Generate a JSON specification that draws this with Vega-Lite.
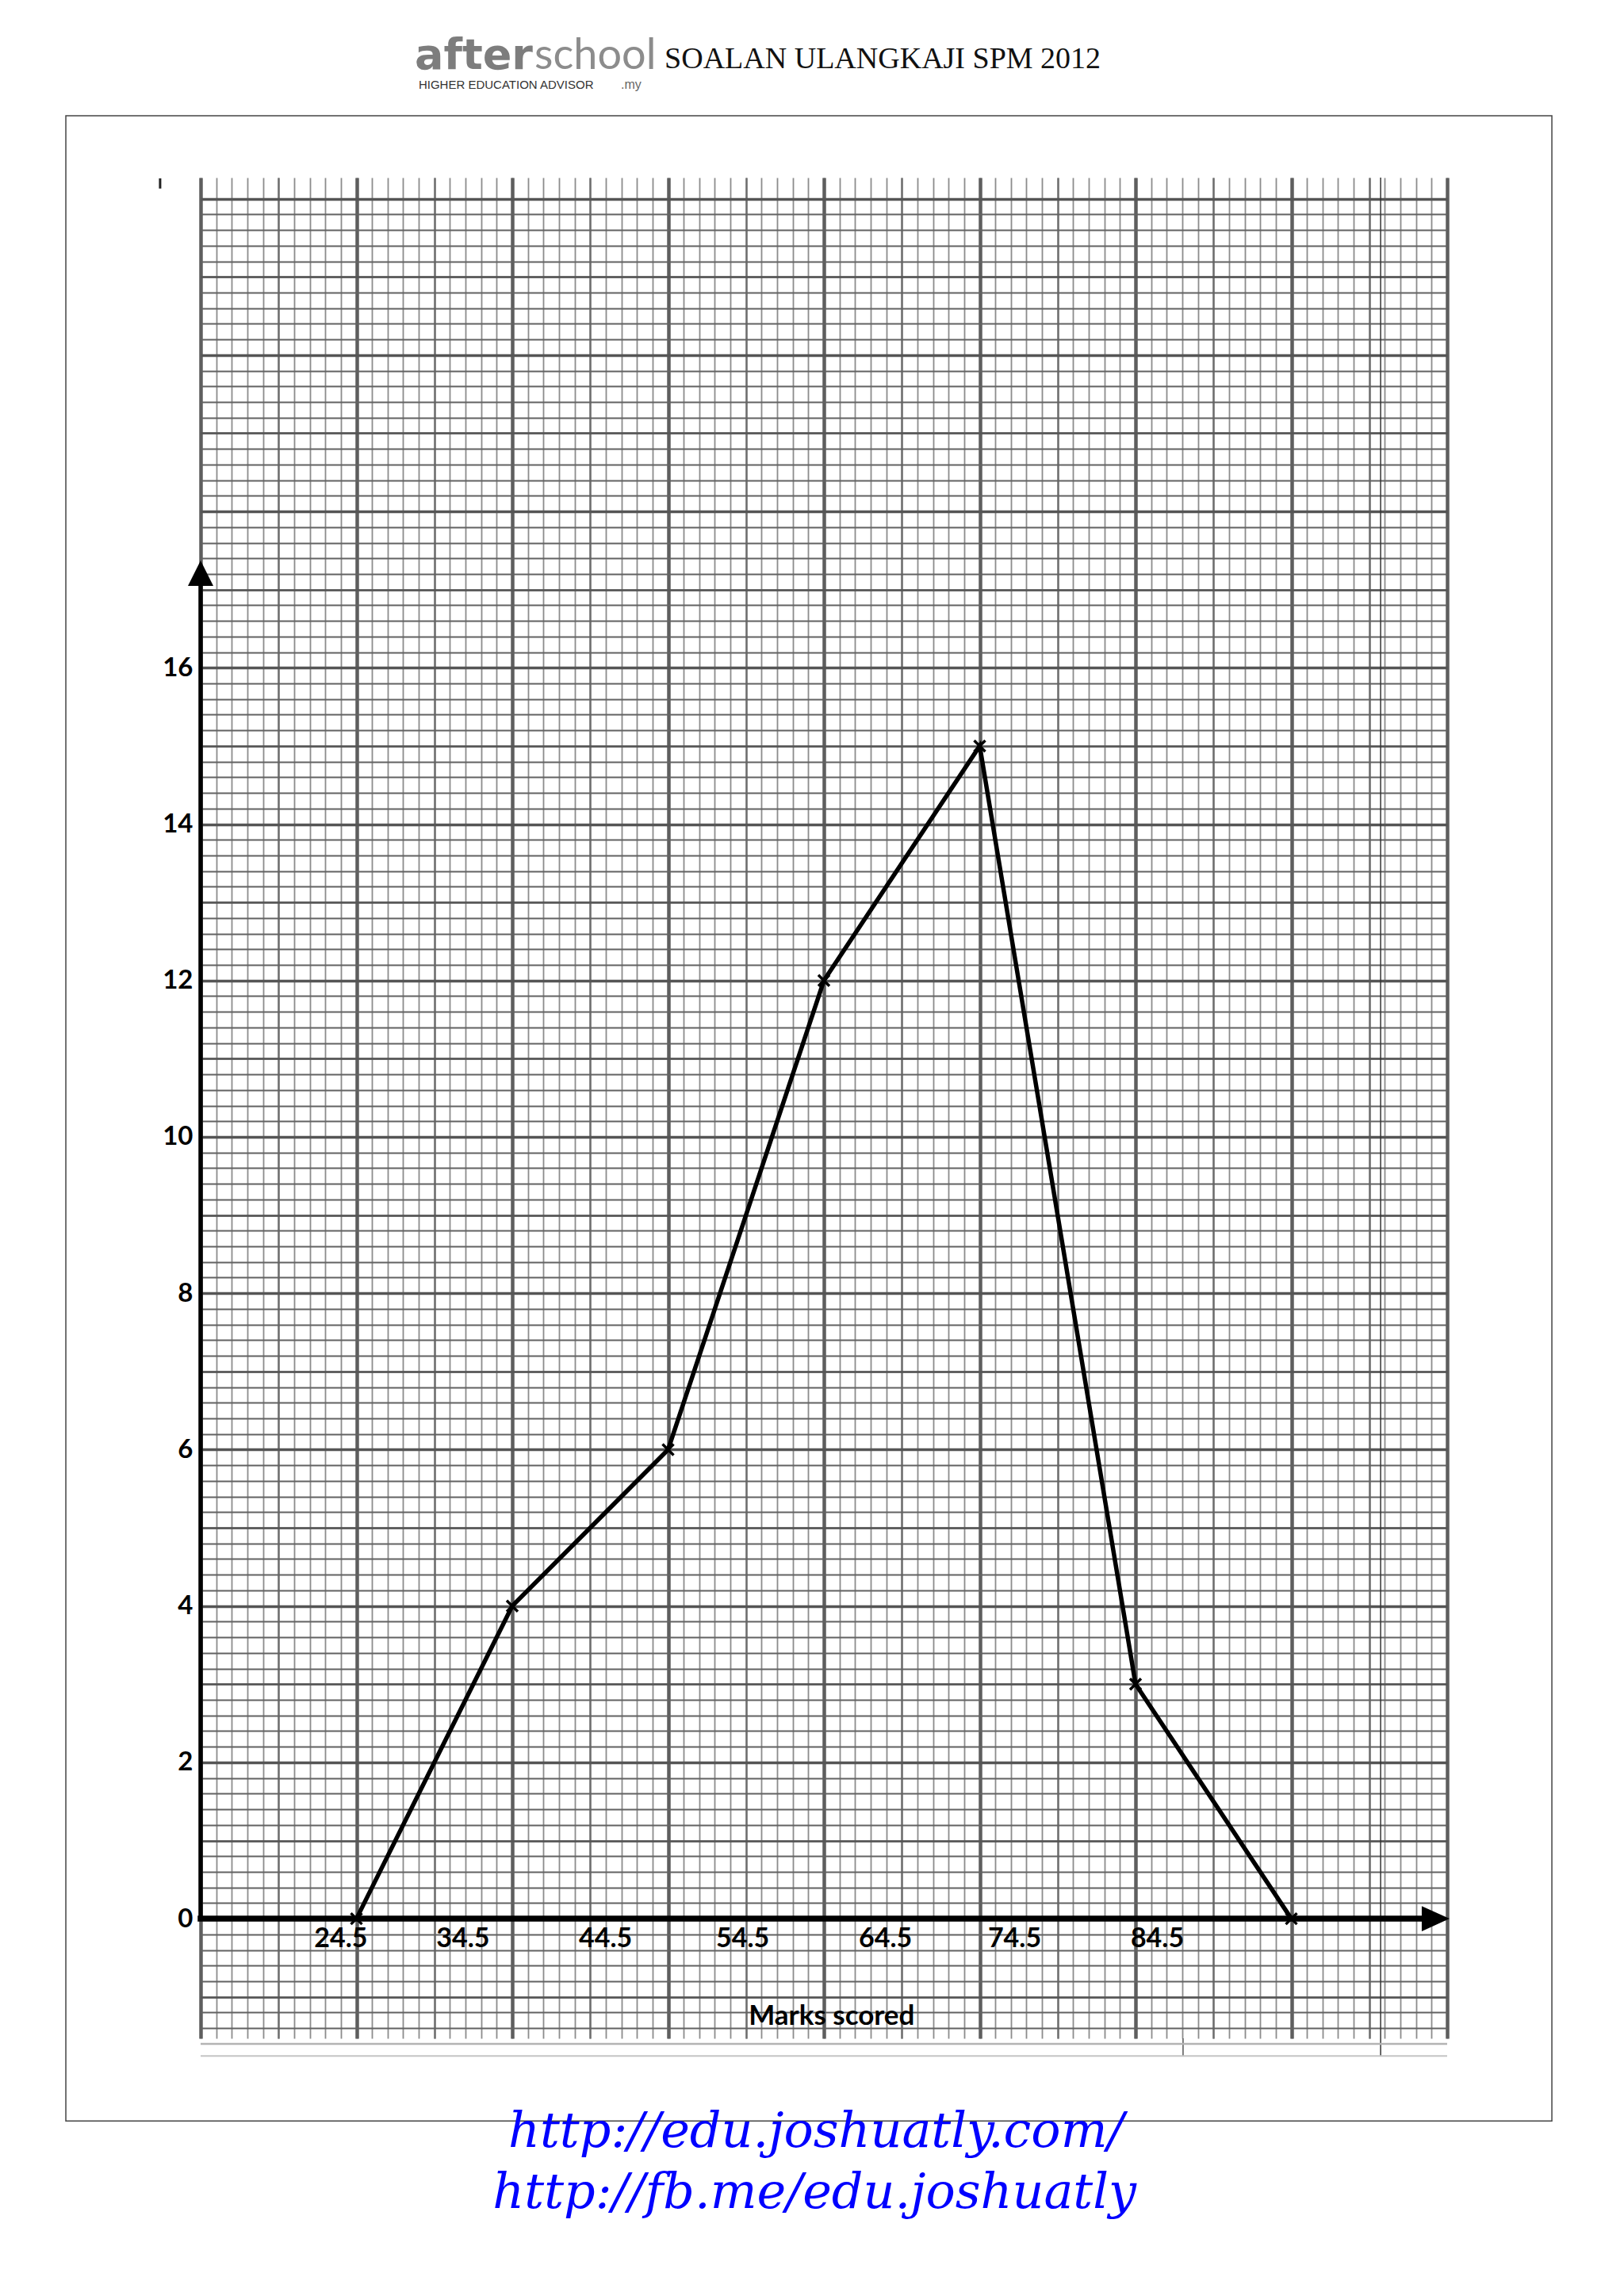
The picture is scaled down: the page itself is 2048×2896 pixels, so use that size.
{
  "$schema": "https://vega.github.io/schema/vega-lite/v6.json",
  "width": 1572,
  "height": 2347,
  "autosize": {"type": "none"},
  "padding": {"left": 253, "top": 224, "right": 223, "bottom": 325},
  "background": "white",
  "config": {"view": {"stroke": null}},
  "datasets": {
    "polygon": [
      {"mark": 24.5, "freq": 0},
      {"mark": 34.5, "freq": 4},
      {"mark": 44.5, "freq": 6},
      {"mark": 54.5, "freq": 12},
      {"mark": 64.5, "freq": 15},
      {"mark": 74.5, "freq": 3},
      {"mark": 84.5, "freq": 0}
    ],
    "xlabels": [
      {"label": "24.5", "pos": 23.5},
      {"label": "34.5", "pos": 31.34},
      {"label": "44.5", "pos": 40.49},
      {"label": "54.5", "pos": 49.29},
      {"label": "64.5", "pos": 58.45},
      {"label": "74.5", "pos": 66.74},
      {"label": "84.5", "pos": 75.9}
    ],
    "one": [{}]
  },
  "data": {"name": "polygon"},
  "resolve": {"axis": {"x": "independent", "y": "independent"}},
  "layer": [
    {
      "mark": {"type": "point", "opacity": 0},
      "encoding": {
        "x": {"field": "mark", "type": "quantitative",
          "scale": {"domain": [14.5, 94.5], "nice": false, "zero": false},
          "axis": {"orient": "bottom", "values": [14.5,15.5,16.5,17.5,18.5,19.5,20.5,21.5,22.5,23.5,24.5,25.5,26.5,27.5,28.5,29.5,30.5,31.5,32.5,33.5,34.5,35.5,36.5,37.5,38.5,39.5,40.5,41.5,42.5,43.5,44.5,45.5,46.5,47.5,48.5,49.5,50.5,51.5,52.5,53.5,54.5,55.5,56.5,57.5,58.5,59.5,60.5,61.5,62.5,63.5,64.5,65.5,66.5,67.5,68.5,69.5,70.5,71.5,72.5,73.5,74.5,75.5,76.5,77.5,78.5,79.5,80.5,81.5,82.5,83.5,84.5,85.5,86.5,87.5,88.5,89.5,90.5,91.5,92.5,93.5,94.5],
            "grid": true, "gridColor": "#8c8c8c", "gridWidth": 1.8, "gridOpacity": 1,
            "labels": false, "ticks": false, "domain": false, "title": null, "zindex": 0}},
        "y": {"field": "freq", "type": "quantitative",
          "scale": {"domain": [-1.53, 22.27], "nice": false, "zero": false},
          "axis": {"orient": "left", "values": [-1.4,-1.2,-1,-0.8,-0.6,-0.4,-0.2,0,0.2,0.4,0.6,0.8,1,1.2,1.4,1.6,1.8,2,2.2,2.4,2.6,2.8,3,3.2,3.4,3.6,3.8,4,4.2,4.4,4.6,4.8,5,5.2,5.4,5.6,5.8,6,6.2,6.4,6.6,6.8,7,7.2,7.4,7.6,7.8,8,8.2,8.4,8.6,8.8,9,9.2,9.4,9.6,9.8,10,10.2,10.4,10.6,10.8,11,11.2,11.4,11.6,11.8,12,12.2,12.4,12.6,12.8,13,13.2,13.4,13.6,13.8,14,14.2,14.4,14.6,14.8,15,15.2,15.4,15.6,15.8,16,16.2,16.4,16.6,16.8,17,17.2,17.4,17.6,17.8,18,18.2,18.4,18.6,18.8,19,19.2,19.4,19.6,19.8,20,20.2,20.4,20.6,20.8,21,21.2,21.4,21.6,21.8,22],
            "grid": true, "gridColor": "#626262", "gridWidth": 1.8, "gridOpacity": 1,
            "labels": false, "ticks": false, "domain": false, "title": null, "zindex": 0}}
      }
    },
    {
      "mark": {"type": "point", "opacity": 0},
      "encoding": {
        "x": {"field": "mark", "type": "quantitative",
          "axis": {"orient": "bottom", "values": [19.5,29.5,39.5,49.5,59.5,69.5,79.5,89.5],
            "grid": true, "gridColor": "#6e6e6e", "gridWidth": 2.4, "gridOpacity": 1,
            "labels": false, "ticks": false, "domain": false, "title": null, "zindex": 0}},
        "y": {"field": "freq", "type": "quantitative",
          "axis": {"orient": "left", "values": [-1,1,3,5,7,9,11,13,15,17,19,21],
            "grid": true, "gridColor": "#555555", "gridWidth": 2.4, "gridOpacity": 1,
            "labels": false, "ticks": false, "domain": false, "title": null, "zindex": 0}}
      }
    },
    {
      "mark": {"type": "point", "opacity": 0},
      "encoding": {
        "x": {"field": "mark", "type": "quantitative",
          "axis": {"orient": "bottom", "values": [14.5,24.5,34.5,44.5,54.5,64.5,74.5,84.5,94.5],
            "grid": true, "gridColor": "#5e5e5e", "gridWidth": 4.5, "gridOpacity": 1,
            "labels": false, "ticks": false, "domain": false, "title": null, "zindex": 0}},
        "y": {"field": "freq", "type": "quantitative",
          "axis": {"orient": "left", "values": [0,2,4,6,8,10,12,14,16,18,20,22],
            "grid": true, "gridColor": "#555555", "gridWidth": 3.5, "gridOpacity": 1,
            "labels": false, "ticks": false, "domain": false, "title": null, "zindex": 0}}
      }
    },
    {
      "data": {"name": "one"},
      "mark": {"type": "rule", "color": "#333333", "strokeWidth": 1.5},
      "encoding": {"x": {"datum": 90.23, "axis": null}, "y": {"datum": -1.755, "axis": null}, "y2": {"datum": 22.27}}
    },
    {
      "data": {"name": "one"},
      "mark": {"type": "rule", "color": "#555555", "strokeWidth": 1.5},
      "encoding": {"x": {"datum": 77.55, "axis": null}, "y": {"datum": -1.755, "axis": null}, "y2": {"datum": -1.53}}
    },
    {
      "data": {"name": "one"},
      "mark": {"type": "rule", "color": "#b4b4b4", "strokeWidth": 2.5},
      "encoding": {"x": {"datum": 14.5, "axis": null}, "x2": {"datum": 94.5}, "y": {"datum": -1.6, "axis": null}}
    },
    {
      "data": {"name": "one"},
      "mark": {"type": "rule", "color": "#c4c4c4", "strokeWidth": 2},
      "encoding": {"x": {"datum": 14.5, "axis": null}, "x2": {"datum": 94.5}, "y": {"datum": -1.755, "axis": null}}
    },
    {
      "data": {"name": "one"},
      "mark": {"type": "rule", "color": "black", "strokeWidth": 7.5, "strokeCap": "square"},
      "encoding": {"x": {"datum": 14.5, "axis": null}, "x2": {"datum": 92.9}, "y": {"datum": 0, "axis": null}}
    },
    {
      "data": {"name": "one"},
      "mark": {"type": "rule", "color": "black", "strokeWidth": 5.5},
      "encoding": {"x": {"datum": 14.5, "axis": null}, "y": {"datum": 0, "axis": null}, "y2": {"datum": 17.05}}
    },
    {
      "data": {"name": "one"},
      "mark": {"type": "point", "shape": "M0,-1L1,1L-1,1Z", "size": 1024, "filled": true, "color": "black", "opacity": 1},
      "encoding": {"x": {"datum": 14.5, "axis": null}, "y": {"datum": 17.21, "axis": null}}
    },
    {
      "data": {"name": "one"},
      "mark": {"type": "point", "shape": "M1,0L-1,-0.914L-1,0.914Z", "size": 1225, "filled": true, "color": "black", "opacity": 1},
      "encoding": {"x": {"datum": 93.76, "axis": null}, "y": {"datum": 0, "axis": null}}
    },
    {
      "mark": {"type": "line", "color": "black", "strokeWidth": 5.5},
      "encoding": {
        "x": {"field": "mark", "type": "quantitative", "axis": null},
        "y": {"field": "freq", "type": "quantitative",
          "axis": {"orient": "left", "values": [0,2,4,6,8,10,12,14,16], "grid": false, "ticks": false, "domain": false, "title": null,
            "labelFont": "Lato", "labelFontWeight": "bold", "labelFontSize": 33, "labelColor": "black", "labelPadding": 10, "zindex": 1}}
      }
    },
    {
      "mark": {"type": "point", "shape": "M-1,-1L1,1M-1,1L1,-1", "size": 196, "filled": false, "color": "black", "strokeWidth": 3.5, "opacity": 1},
      "encoding": {
        "x": {"field": "mark", "type": "quantitative", "axis": null},
        "y": {"field": "freq", "type": "quantitative", "axis": null}
      }
    },
    {
      "data": {"name": "xlabels"},
      "mark": {"type": "text", "font": "Lato", "fontWeight": "bold", "fontSize": 34, "color": "black", "align": "center", "baseline": "middle"},
      "encoding": {
        "x": {"field": "pos", "type": "quantitative", "axis": null},
        "y": {"datum": -0.26, "axis": null},
        "text": {"field": "label"}
      }
    },
    {
      "data": {"name": "one"},
      "mark": {"type": "text", "text": "Marks scored", "font": "Lato", "fontWeight": "bold", "fontSize": 35, "color": "black", "align": "center", "baseline": "middle"},
      "encoding": {"x": {"datum": 55.0, "axis": null}, "y": {"datum": -1.25, "axis": null}}
    },
    {
      "data": {"name": "one"},
      "mark": {"type": "rule", "color": "#222222", "strokeWidth": 3},
      "encoding": {"x": {"datum": 11.9, "axis": null}, "y": {"datum": 22.13, "axis": null}, "y2": {"datum": 22.26}}
    },
    {
      "data": {"name": "one"},
      "mark": {"type": "rect", "filled": false, "stroke": "#444444", "strokeWidth": 1.5},
      "encoding": {"x": {"datum": 5.85, "axis": null}, "x2": {"datum": 101.22}, "y": {"datum": 23.06, "axis": null}, "y2": {"datum": -2.586}}
    },
    {
      "data": {"name": "one"},
      "mark": {"type": "text", "text": "SOALAN ULANGKAJI SPM 2012", "font": "Liberation Serif", "fontSize": 38, "color": "#111111", "align": "center", "baseline": "alphabetic"},
      "encoding": {"x": {"datum": 58.27, "axis": null}, "y": {"datum": 23.67, "axis": null}}
    },
    {
      "data": {"name": "one"},
      "mark": {"type": "text", "text": "after", "font": "DejaVu Sans", "fontWeight": "bold", "fontSize": 54, "color": "#7d7d7d", "align": "left", "baseline": "alphabetic"},
      "encoding": {"x": {"datum": 28.24, "axis": null}, "y": {"datum": 23.66, "axis": null}}
    },
    {
      "data": {"name": "one"},
      "mark": {"type": "text", "text": "school", "font": "Lato", "fontSize": 54, "color": "#8c8c8c", "align": "left", "baseline": "alphabetic"},
      "encoding": {"x": {"datum": 35.93, "axis": null}, "y": {"datum": 23.66, "axis": null}}
    },
    {
      "data": {"name": "one"},
      "mark": {"type": "text", "text": "HIGHER EDUCATION ADVISOR", "font": "Liberation Sans", "fontSize": 15, "color": "#333333", "align": "left", "baseline": "alphabetic"},
      "encoding": {"x": {"datum": 28.49, "axis": null}, "y": {"datum": 23.41, "axis": null}}
    },
    {
      "data": {"name": "one"},
      "mark": {"type": "text", "text": ".my", "font": "Liberation Sans", "fontSize": 16, "color": "#666666", "align": "left", "baseline": "alphabetic"},
      "encoding": {"x": {"datum": 41.47, "axis": null}, "y": {"datum": 23.41, "axis": null}}
    },
    {
      "data": {"name": "one"},
      "mark": {"type": "text", "text": "http://edu.joshuatly.com/", "font": "DejaVu Serif", "fontStyle": "italic", "fontSize": 62, "color": "#0000ff", "align": "center", "baseline": "alphabetic"},
      "encoding": {"x": {"datum": 54.0, "axis": null}, "y": {"datum": -2.92, "axis": null}}
    },
    {
      "data": {"name": "one"},
      "mark": {"type": "text", "text": "http://fb.me/edu.joshuatly", "font": "DejaVu Serif", "fontStyle": "italic", "fontSize": 62, "color": "#0000ff", "align": "center", "baseline": "alphabetic"},
      "encoding": {"x": {"datum": 53.9, "axis": null}, "y": {"datum": -3.7, "axis": null}}
    }
  ]
}
